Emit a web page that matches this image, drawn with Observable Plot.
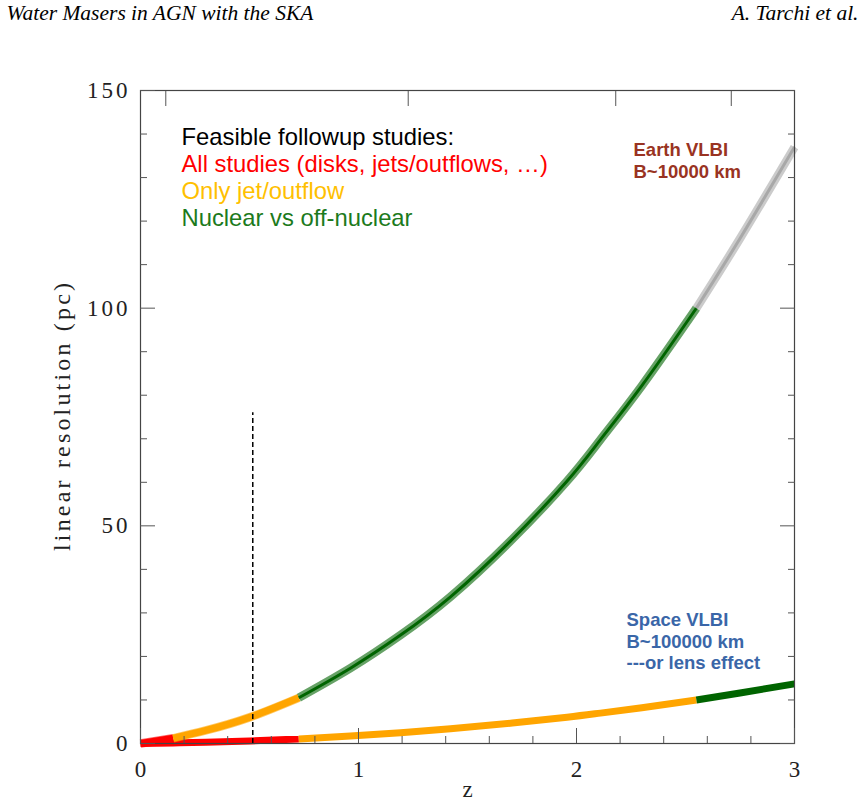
<!DOCTYPE html>
<html><head><meta charset="utf-8">
<script src="https://cdn.jsdelivr.net/npm/d3@7"></script>
<script src="https://cdn.jsdelivr.net/npm/@observablehq/plot@0.6"></script>
<style>
body{margin:0;background:#fff}
svg g[aria-label="x-axis tick label"] text, svg g[aria-label="y-axis tick label"] text {letter-spacing:3px}
</style>
</head><body><div id="chart"></div>
<script>
// ---- data ----
const redshift = [0, 0.15, 0.3, 0.5, 0.726, 0.963, 1.193, 1.422, 1.697, 1.957, 2.11, 2.3, 2.55, 2.75, 3.0];
const earthRes = [0, 1.2, 3.0, 6.0, 10.5, 17.3, 24.9, 33.7, 46.5, 60.3, 69.8, 82.2, 100, 116, 137];
const spaceRes = [0, 0.12, 0.3, 0.6, 1.05, 1.73, 2.49, 3.37, 4.65, 6.03, 6.98, 8.22, 10.0, 11.6, 13.7];
const earthBreaks = [0, 0.15, 0.726, 2.55, 3.0];
const earthColors = ["#ff0000", "#ffa500", "#006400", "#a8a8a8"];
const spaceBreaks = [0, 0.726, 2.55, 3.0];
const spaceColors = ["#ff0000", "#ffa500", "#006400"];
const xMajorTicks = [0, 1, 2, 3];
const xMinorTicks = [0.2, 0.4, 0.6, 0.8, 1.2, 1.4, 1.6, 1.8, 2.2, 2.4, 2.6, 2.8];
const yMajorTicks = [0, 50, 100, 150];
const yMinorTicks = [10, 20, 30, 40, 60, 70, 80, 90, 110, 120, 130, 140];
const topTicks = [0.116, 1.228, 2.18, 2.71];
const markerZ = [0.515];
const markerTop = [76];
const legendLines = ["Feasible followup studies:", "All studies (disks, jets/outflows, …)", "Only jet/outflow", "Nuclear vs off-nuclear"];
const legendColors = ["#000000", "#ff0000", "#ffc000", "#1c7a1c"];
const earthLabel = ["Earth VLBI", "B~10000 km"];
const spaceLabel = ["Space VLBI", "B~100000 km", "---or lens effect"];
const headerLeft = "Water Masers in AGN with the SKA";
const headerRight = "A. Tarchi et al.";
const xLabel = "z";
const yLabel = "linear resolution (pc)";

function segments(res, breaks, colors) {
  const rows = [];
  colors.forEach((c, s) => {
    redshift.forEach((z, i) => {
      if (z >= breaks[s] - 1e-9 && z <= breaks[s + 1] + 1e-9) rows.push({z, r: res[i], seg: s, color: c});
    });
  });
  return rows;
}
const earthRows = segments(earthRes, earthBreaks, earthColors);
const spaceRows = segments(spaceRes, spaceBreaks, spaceColors);
const markerRows = markerZ.map((z, i) => ({z, top: markerTop[i]}));

const tickStroke = "#555";
const sans = "Liberation Sans, Arial, sans-serif";
const serif = "Liberation Serif, Times New Roman, serif";
const crv = "natural";

const marks = [
  // curves
  Plot.line(spaceRows, {x: "z", y: "r", z: "seg", stroke: "color", strokeWidth: 7, curve: crv, strokeLinecap: "butt"}),
  Plot.line(earthRows, {x: "z", y: "r", z: "seg", stroke: "color", strokeWidth: 8.5, strokeOpacity: 0.6, curve: crv, strokeLinecap: "butt"}),
  Plot.line(earthRows.filter(d => d.seg < 2), {x: "z", y: "r", z: "seg", stroke: "color", strokeWidth: 7, curve: crv, strokeLinecap: "butt"}),
  Plot.line(earthRows.filter(d => d.seg >= 2), {x: "z", y: "r", z: "seg", stroke: "color", strokeWidth: 3, curve: crv, strokeLinecap: "butt"}),
  // dashed marker
  Plot.ruleX(markerRows, {x: "z", y1: 0, y2: "top", stroke: "#000", strokeWidth: 1.5, strokeDasharray: "5,3"}),
  // frame
  Plot.frame({stroke: "#444", strokeWidth: 1.2}),
  // inward ticks
  Plot.axisX({anchor: "bottom", ticks: xMajorTicks, tickSize: 15, dy: -15, tickFormat: () => "", label: null, stroke: tickStroke}),
  Plot.axisX({anchor: "bottom", ticks: xMinorTicks, tickSize: 7, dy: -7, tickFormat: () => "", label: null, stroke: tickStroke}),
  Plot.axisX({anchor: "top", ticks: topTicks, tickSize: 15, dy: 15, tickFormat: () => "", label: null, stroke: tickStroke}),
  Plot.axisY({anchor: "left", ticks: yMajorTicks, tickSize: 15, dx: 15, tickFormat: () => "", label: null, stroke: tickStroke}),
  Plot.axisY({anchor: "left", ticks: yMinorTicks, tickSize: 7, dx: 7, tickFormat: () => "", label: null, stroke: tickStroke}),
  Plot.axisY({anchor: "right", ticks: yMajorTicks, tickSize: 15, dx: -15, tickFormat: () => "", label: null, stroke: tickStroke}),
  Plot.axisY({anchor: "right", ticks: yMinorTicks, tickSize: 7, dx: -7, tickFormat: () => "", label: null, stroke: tickStroke}),
  // tick labels
  Plot.axisX({anchor: "bottom", ticks: xMajorTicks, tickFormat: d3.format("d"), tickSize: 0, tickPadding: 17, dx: 1.5, label: null, fontSize: 23, fontFamily: serif, fill: "#222"}),
  Plot.axisY({anchor: "left", ticks: yMajorTicks, tickFormat: d3.format("d"), tickSize: 0, tickPadding: 10, label: null, fontSize: 23, fontFamily: serif, fill: "#222"}),
  // axis titles
  Plot.text([xLabel], {text: d => d, frameAnchor: "bottom", lineAnchor: "middle", dy: 46, fontSize: 23, fontFamily: serif, fill: "#222"}),
  Plot.text([yLabel], {text: d => d, frameAnchor: "left", lineAnchor: "middle", textAnchor: "middle", dx: -78, rotate: -90, fontSize: 24, fontFamily: serif, fill: "#222"}),
  // header
  Plot.text([headerLeft], {text: d => d, frameAnchor: "top-left", lineAnchor: "middle", dx: -134, dy: -77, textAnchor: "start", fontSize: 21.5, fontStyle: "italic", fontFamily: serif, fill: "#000"}),
  Plot.text([headerRight], {text: d => d, frameAnchor: "top-right", lineAnchor: "middle", dx: 64, dy: -77, textAnchor: "end", fontSize: 21.5, fontStyle: "italic", fontFamily: serif, fill: "#000"}),
  // legend
  ...legendLines.map((t, i) => Plot.text([t], {text: d => d, frameAnchor: "top-left", lineAnchor: "middle", dx: 41, dy: 47 + i * 27, textAnchor: "start", fontSize: 23.8, fontFamily: sans, fill: legendColors[i]})),
  ...earthLabel.map((t, i) => Plot.text([t], {text: d => d, frameAnchor: "top-left", lineAnchor: "middle", dx: 493, dy: 60 + i * 21.3, textAnchor: "start", fontSize: 18.5, fontWeight: "bold", fontFamily: sans, fill: "#993322"})),
  ...spaceLabel.map((t, i) => Plot.text([t], {text: d => d, frameAnchor: "top-left", lineAnchor: "middle", dx: 486, dy: 530 + i * 21.2, textAnchor: "start", fontSize: 18.5, fontWeight: "bold", fontFamily: sans, fill: "#3a66a8"}))
];

const chart = Plot.plot({
  width: 866, height: 802,
  marginLeft: 140, marginRight: 72, marginTop: 90, marginBottom: 59,
  x: {domain: [0, 3]},
  y: {domain: [0, 150]},
  color: {type: "identity"},
  style: {background: "#fff", overflow: "visible"},
  marks
});
document.getElementById("chart").appendChild(chart);
d3.select(chart).selectAll("text").filter(function() { return this.textContent === yLabel; })
  .attr("textLength", 268).attr("lengthAdjust", "spacing");
</script>
</body></html>
